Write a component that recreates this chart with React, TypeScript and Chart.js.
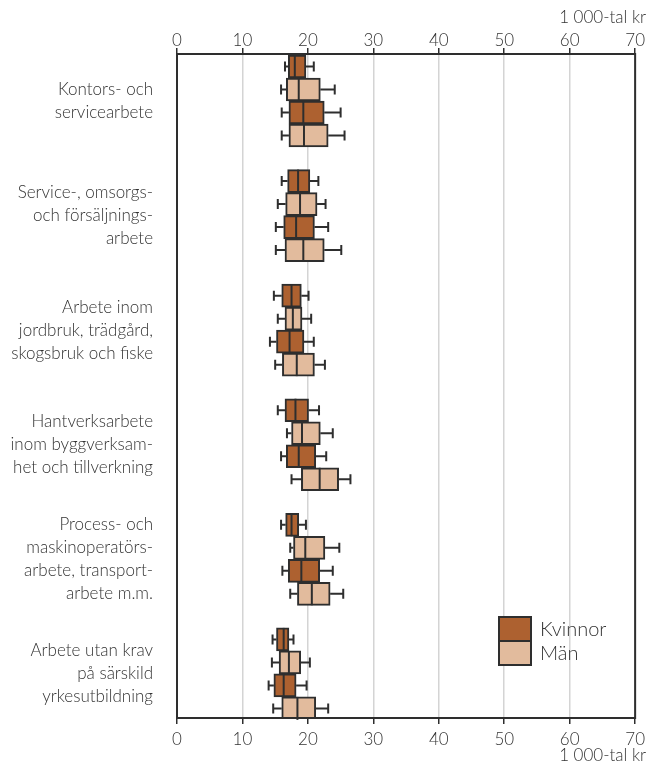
import React, { useEffect, useRef } from "react";
import { Chart, registerables } from "chart.js";

Chart.register(...registerables);

const categories: string[][] = [
  ["Kontors- och", "servicearbete"],
  ["Service-, omsorgs-", "och försäljnings-", "arbete"],
  ["Arbete inom", "jordbruk, trädgård,", "skogsbruk och fiske"],
  ["Hantverksarbete", "inom byggverksam-", "het och tillverkning"],
  ["Process- och", "maskinoperatörs-", "arbete, transport-", "arbete m.m."],
  ["Arbete utan krav", "på särskild", "yrkesutbildning"],
];

const xTicks = [0, 10, 20, 30, 40, 50, 60, 70];
const unitLabel = "1 000-tal kr";
const legendLabels = ["Kvinnor", "Män"];

// Series 1: Kvinnor (upper)
const k1Low = [16.5, 16.0, 14.8, 15.4, 15.9, 14.6];
const k1Q1 = [17.0, 16.9, 16.0, 16.5, 16.6, 15.2];
const k1Med = [18.0, 18.5, 17.5, 18.1, 17.5, 16.3];
const k1Q3 = [19.7, 20.3, 19.0, 20.1, 18.6, 17.1];
const k1High = [20.9, 21.6, 20.1, 21.7, 19.7, 17.8];

// Series 2: Män (upper)
const m1Low = [15.9, 15.4, 15.4, 16.8, 17.3, 14.5];
const m1Q1 = [16.7, 16.6, 16.5, 17.5, 17.8, 15.6];
const m1Med = [18.6, 18.8, 17.7, 19.1, 19.6, 17.1];
const m1Q3 = [21.9, 21.4, 19.1, 21.9, 22.6, 18.9];
const m1High = [24.1, 22.7, 20.5, 23.8, 24.8, 20.3];

// Series 3: Kvinnor (lower)
const k2Low = [16.0, 15.1, 14.2, 15.9, 16.1, 14.0];
const k2Q1 = [17.1, 16.3, 15.2, 16.7, 17.0, 14.8];
const k2Med = [19.3, 18.2, 17.2, 18.6, 19.0, 16.3];
const k2Q3 = [22.5, 21.0, 19.4, 21.2, 21.8, 18.2];
const k2High = [25.0, 23.1, 20.9, 22.8, 23.8, 19.8];

// Series 4: Män (lower)
const m2Low = [16.0, 15.1, 15.0, 17.5, 17.3, 14.7];
const m2Q1 = [17.1, 16.5, 16.1, 19.0, 18.4, 16.0];
const m2Med = [19.4, 19.3, 18.3, 21.8, 20.6, 18.4];
const m2Q3 = [23.1, 22.5, 21.0, 24.7, 23.4, 21.2];
const m2High = [25.6, 25.1, 22.6, 26.5, 25.4, 23.1];

const KV_COLOR = "#ad6130";
const MAN_COLOR = "#e2bb9d";
const LINE = "#2e2e2e";
const TEXT = "#333333";
const FONT = "Lato, 'Open Sans', sans-serif";

const series = [
  { label: legendLabels[0], color: KV_COLOR, low: k1Low, q1: k1Q1, med: k1Med, q3: k1Q3, high: k1High },
  { label: legendLabels[1], color: MAN_COLOR, low: m1Low, q1: m1Q1, med: m1Med, q3: m1Q3, high: m1High },
  { label: legendLabels[0], color: KV_COLOR, low: k2Low, q1: k2Q1, med: k2Med, q3: k2Q3, high: k2High },
  { label: legendLabels[1], color: MAN_COLOR, low: m2Low, q1: m2Q1, med: m2Med, q3: m2Q3, high: m2High },
];

const boxPlugin = {
  id: "boxExtras",
  afterDatasetsDraw(chart: any) {
    const ctx = chart.ctx;
    const xs = chart.scales.x;
    ctx.save();
    ctx.strokeStyle = LINE;
    series.forEach((s, di) => {
      const meta = chart.getDatasetMeta(di);
      meta.data.forEach((bar: any, i: number) => {
        const y = bar.y;
        const h = bar.height;
        const pl = xs.getPixelForValue(s.low[i]);
        const pq1 = xs.getPixelForValue(s.q1[i]);
        const pq3 = xs.getPixelForValue(s.q3[i]);
        const ph = xs.getPixelForValue(s.high[i]);
        const pm = xs.getPixelForValue(s.med[i]);
        ctx.lineWidth = 2;
        ctx.beginPath();
        ctx.moveTo(pl, y);
        ctx.lineTo(pq1, y);
        ctx.moveTo(pq3, y);
        ctx.lineTo(ph, y);
        ctx.moveTo(pl, y - 5);
        ctx.lineTo(pl, y + 5);
        ctx.moveTo(ph, y - 5);
        ctx.lineTo(ph, y + 5);
        ctx.stroke();
        ctx.beginPath();
        ctx.moveTo(pm, y - h / 2);
        ctx.lineTo(pm, y + h / 2);
        ctx.stroke();
      });
    });
    // frame
    const a = chart.chartArea;
    ctx.lineWidth = 2;
    ctx.strokeStyle = LINE;
    ctx.strokeRect(a.left, a.top, a.right - a.left, a.bottom - a.top);

    // legend
    const lx = 499;
    const ly = 617;
    const lw = 32;
    const lh = 24;
    [KV_COLOR, MAN_COLOR].forEach((c, k) => {
      ctx.fillStyle = c;
      ctx.fillRect(lx, ly + k * lh, lw, lh);
      ctx.strokeRect(lx, ly + k * lh, lw, lh);
      ctx.fillStyle = TEXT;
      ctx.font = `300 20px ${FONT}`;
      ctx.textAlign = "left";
      ctx.textBaseline = "middle";
      ctx.fillText(legendLabels[k], lx + lw + 9, ly + k * lh + lh / 2 + 1);
    });

    // unit labels
    ctx.font = `300 17px ${FONT}`;
    ctx.textAlign = "right";
    ctx.textBaseline = "middle";
    ctx.fillStyle = TEXT;
    ctx.fillText(unitLabel, 646, 18);
    ctx.fillText(unitLabel, 646, 756);
    ctx.restore();
  },
};

export default function App() {
  const ref = useRef<HTMLCanvasElement>(null);
  useEffect(() => {
    if (!ref.current) return;
    const chart = new Chart(ref.current, {
      type: "bar",
      data: {
        datasets: series.map((s) => ({
          label: s.label,
          data: s.q1.map((q, i) => ({ x: [q, s.q3[i]], y: i })),
          backgroundColor: s.color,
          borderColor: LINE,
          borderWidth: 2,
          borderSkipped: false,
          barThickness: 23,
          xAxisID: "x",
          yAxisID: "y",
        })) as any,
      },
      options: {
        indexAxis: "y",
        responsive: false,
        animation: false,
        layout: { padding: { left: 0, right: 14, top: 0, bottom: 0 } },
        plugins: { legend: { display: false }, tooltip: { enabled: false } },
        scales: {
          y: {
            type: "linear",
            position: "left",
            reverse: true,
            offset: false,
            min: -0.41,
            max: 5.385,
            afterBuildTicks: (scale: any) => {
              scale.ticks = categories.map((_, i) => ({ value: i }));
            },
            afterFit: (scale: any) => {
              scale.width = 177;
              scale.paddingTop = 0;
              scale.paddingBottom = 0;
            },
            grid: { display: false, drawTicks: false, offset: false },
            border: { display: false },
            ticks: {
              padding: 24,
              color: TEXT,
              font: { family: FONT, size: 17, weight: "300" as any, lineHeight: 1.36 },
              callback: (v: any) => categories[v as number] ?? "",
            },
          },
          x: {
            type: "linear",
            position: "bottom",
            min: 0,
            max: 70,
            afterBuildTicks: (scale: any) => {
              scale.ticks = xTicks.map((v) => ({ value: v }));
            },
            afterFit: (scale: any) => {
              scale.height = 47;
            },
            grid: { color: "#d4d4d4", lineWidth: 1.5, tickColor: LINE, tickLength: 6, drawOnChartArea: true },
            border: { display: false },
            ticks: {
              padding: 5,
              color: TEXT,
              maxRotation: 0,
              font: { family: FONT, size: 17, weight: "300" as any },
            },
          },
          x2: {
            type: "linear",
            position: "top",
            min: 0,
            max: 70,
            afterBuildTicks: (scale: any) => {
              scale.ticks = xTicks.map((v) => ({ value: v }));
            },
            afterFit: (scale: any) => {
              scale.height = 54;
            },
            grid: { drawOnChartArea: false, tickColor: LINE, tickLength: 6, lineWidth: 1.5 },
            border: { display: false },
            ticks: {
              padding: -3,
              color: TEXT,
              maxRotation: 0,
              font: { family: FONT, size: 17, weight: "300" as any },
            },
          },
        },
      } as any,
      plugins: [boxPlugin],
    });
    return () => chart.destroy();
  }, []);
  return (
    <div style={{ position: "absolute", left: 0, top: 0, width: 650, height: 765 }}>
      <canvas ref={ref} width={650} height={765} style={{ display: "block" }} />
    </div>
  );
}
